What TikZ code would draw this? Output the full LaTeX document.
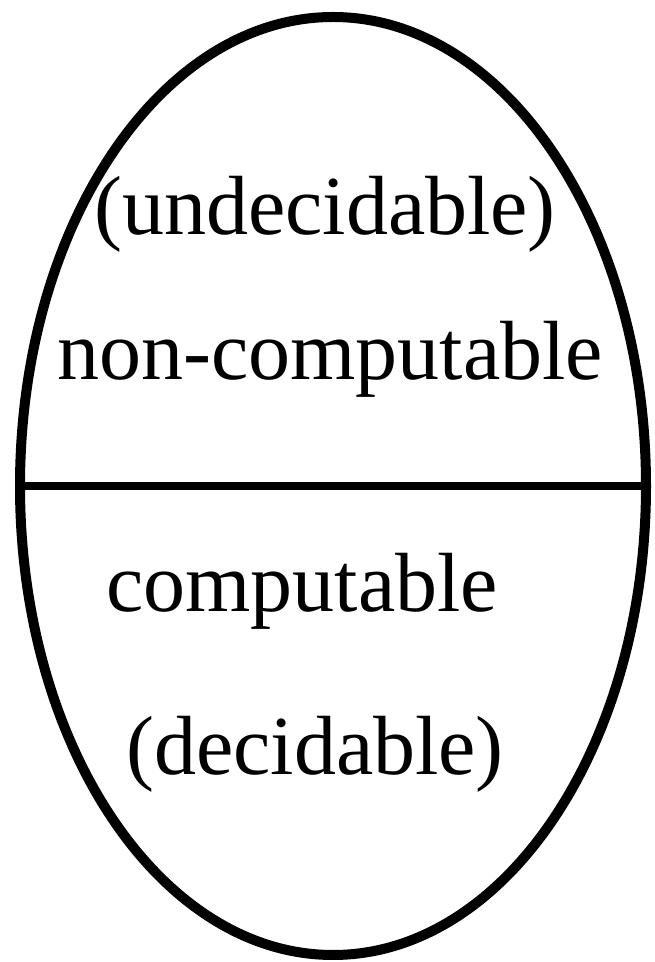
\documentclass[tikz,border=0pt]{standalone}
\usepackage{fontspec}
\setmainfont{Liberation Serif}
\usetikzlibrary{shapes.geometric}
\begin{document}
\begin{tikzpicture}[x=1pt,y=1pt,
  outline/.style={draw=black,line width=10pt,ellipse,inner sep=0pt,minimum width=626pt,minimum height=938pt},
  divider/.style={draw=black,line width=8pt},
  label/.style={anchor=base,inner sep=0pt,font=\fontsize{84}{100}\selectfont}]
\useasboundingbox (0,0) rectangle (654,962);
\node[outline] (egg) at (333,476) {};
\draw[divider] (egg.west) -- (egg.east);
\node[label] (undec) at (325,727) {(undecidable)};
\node[label] (noncomp) at (330,582) {non-computable};
\node[label] (comp) at (302,350) {computable};
\node[label] (dec) at (315,187) {(decidable)};
\end{tikzpicture}
\end{document}
